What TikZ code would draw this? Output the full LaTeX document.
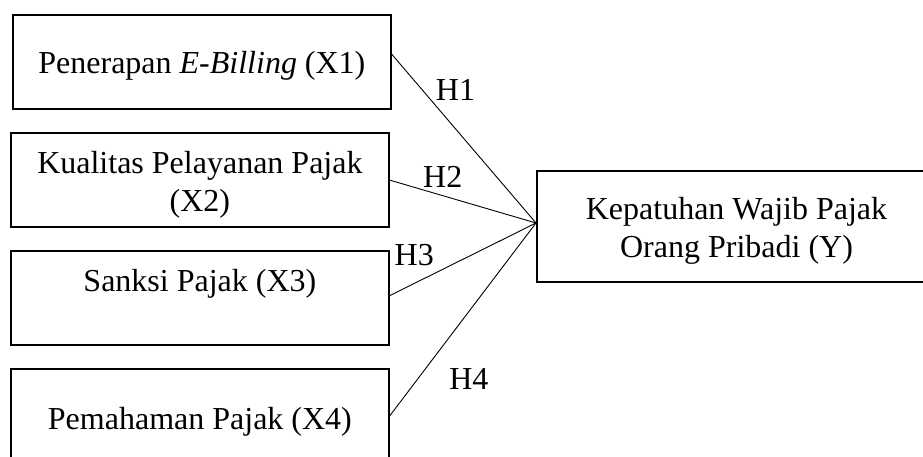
\documentclass[tikz,border=0pt]{standalone}
\usepackage{fontspec}
\setmainfont{Liberation Serif}
\usetikzlibrary{calc}
\tikzset{
  box/.style={draw=black, line width=2pt, rectangle, inner sep=0pt, outer sep=0pt},
  txt/.style={font=\fontsize{32}{38.5}\selectfont, inner sep=0pt, outer sep=0pt, align=center},
  hlab/.style={font=\fontsize{32}{38.5}\selectfont, inner sep=0pt},
  conn/.style={draw=black, line width=0.9pt}
}
\begin{document}
\begin{tikzpicture}[x=1pt,y=1pt]
\useasboundingbox (0,0) rectangle (923,457);
\clip (0,0) rectangle (923,457);
\fill[white] (0,0) rectangle (923,457);
% boxes
\node[box, minimum width=378.3pt, minimum height=94.3pt] (b1) at (201.85,395.15) {};
\node[box, minimum width=378.8pt, minimum height=94.6pt] (b2) at (199.9,277) {};
\node[box, minimum width=378.8pt, minimum height=94.3pt] (b3) at (199.9,159.15) {};
\node[box, minimum width=378.8pt, minimum height=94.3pt] (b4) at (199.9,40.55) {};
\node[box, minimum width=399pt, minimum height=111.6pt] (Y) at (736.5,230.5) {};
% texts (base anchor = baseline of the last line)
\node[txt, anchor=base] (t1) at (201.9,383) {Penerapan \textit{E-Billing} (X1)};
\node[txt, anchor=base] (t2) at (199.9,245.3) {Kualitas Pelayanan Pajak\\(X2)};
\node[txt, anchor=base] (t3) at (199.9,165) {Sanksi Pajak (X3)};
\node[txt, anchor=base] (t4) at (199.9,27.5) {Pemahaman Pajak (X4)};
\node[txt, anchor=base] (tY) at (736.5,199.3) {Kepatuhan Wajib Pajak\\Orang Pribadi (Y)};
% connectors
\coordinate (yin) at ($(Y.west)+(-1,3.5)$);
\coordinate (s1) at ($(b1.east)+(0,8.5)$);
\draw[conn] (s1) -- (yin);
\draw[conn] (b2.east) -- (yin);
\draw[conn] ($(b3.east)+(0,2)$) -- (yin);
\draw[conn] (b4.east) -- (yin);
% labels
\node[hlab] (h1) at (455.5,367) {H1};
\node[hlab] (h2) at (442.7,280.3) {H2};
\node[hlab] (h3) at (414.2,202.3) {H3};
\node[hlab] (h4) at (468.8,78.5) {H4};
\end{tikzpicture}
\end{document}
